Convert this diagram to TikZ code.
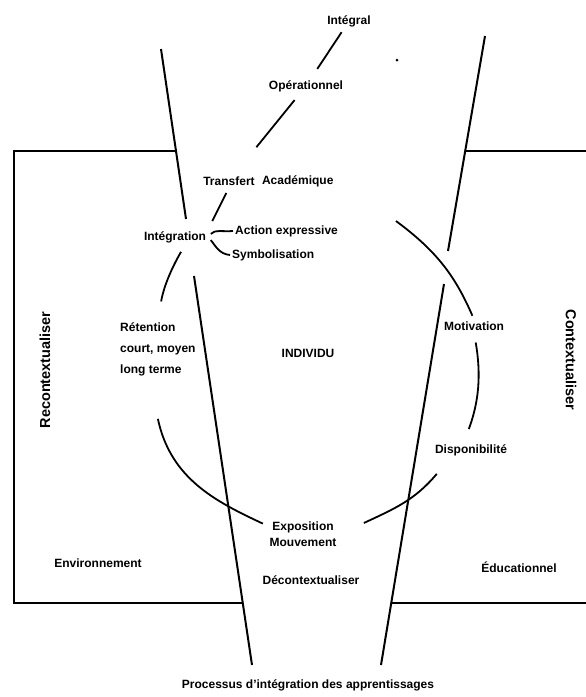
\documentclass[tikz,border=0pt]{standalone}
\usepackage{fontspec}
\setmainfont{Liberation Sans}
\usetikzlibrary{positioning}

\begin{document}
\begin{tikzpicture}[x=1pt, y=-1pt, lbl/.style={font=\bfseries\fontsize{12}{14}\selectfont, inner sep=2pt}, vlbl/.style={font=\bfseries\fontsize{14.5}{16}\selectfont, inner sep=0pt}, link/.style={line width=1.8pt}, frame/.style={line width=2pt}, node distance=4pt]
	\useasboundingbox (0,0) rectangle (586,697);
	\draw[frame] (176,151) -- (14,151) -- (14,603) -- (243,603);
	\draw[frame] (465,151) -- (586,151);
	\draw[frame] (392,603) -- (586,603);
	\draw[frame] (161,49) -- (186,219);
	\draw[frame] (194,276) -- (252,665);
	\draw[frame] (485,36) -- (448,251);
	\draw[frame] (444,284) -- (381,665);
	\fill (397,60) circle (1.5pt);
	\node[lbl] (integral) at (349,21) {Intégral};
	\node[lbl] (oper) at (306,86) {Opérationnel};
	\node[lbl] (transfert) at (229,181) {Transfert};
	\node[lbl] (acad) [right=3pt of transfert] {Académique};
	\node[lbl] (integration) at (175,237) {Intégration};
	\node[lbl, anchor=west] (action) at (233,231) {Action expressive};
	\node[lbl, anchor=west] (symbol) at (230,255) {Symbolisation};
	\node[lbl, align=left, anchor=west, font=\bfseries\fontsize{12}{21}\selectfont] (retention) at (118,349) {Rétention\\court, moyen\\long terme};
	\node[lbl] (individu) at (308,353) {INDIVIDU};
	\node[lbl] (motivation) at (474,326) {Motivation};
	\node[lbl] (dispo) at (471,450) {Disponibilité};
	\node[lbl] (expo) at (303,527) {Exposition};
	\node[lbl] (mouv) [below=1pt of expo] {Mouvement};
	\node[lbl] (env) at (98,563) {Environnement};
	\node[lbl] (decont) at (311,580) {Décontextualiser};
	\node[lbl] (educ) at (519,567) {Éducationnel};
	\node[vlbl, rotate=90] (recont) at (45,370) {Recontextualiser};
	\node[vlbl, rotate=-90] (contexte) at (571,360) {Contextualiser};
	\node[lbl] (processus) at (308,685) {Processus d'intégration des apprentissages};
	\coordinate (gap) at (396,221);
	\draw[link, shorten <=4pt, shorten >=11pt] (integral) -- (oper);
	\draw[link, shorten <=8pt, shorten >=35pt] (oper) -- (transfert);
	\draw[link, shorten <=6pt, shorten >=9pt] (transfert.south) -- (integration.north east);
	\draw[link, shorten <=4pt] (integration.east) to[out=50, in=185] (action.west);
	\draw[link, shorten <=4pt] (integration.east) to[out=-50, in=175] (symbol.west);
	\draw[link, shorten <=8pt, shorten >=19pt] ([xshift=10pt]integration.south) to[bend right=10] (retention.north);
	\draw[link, shorten >=8pt] ([yshift=-41pt]retention.south) to[out=-78, in=155] (expo.west);
	\draw[link] ([xshift=28pt, yshift=4pt]expo.east) to[out=25, in=-130] ([xshift=4pt, yshift=-16pt]dispo.south west);
	\draw[link, shorten <=10pt, shorten >=14pt] (motivation.south) to[bend left=15] ([xshift=-7pt]dispo.north);
	\draw[link, shorten <=4pt] (motivation.north) to[bend right=15] (gap);
\end{tikzpicture}
\end{document}
